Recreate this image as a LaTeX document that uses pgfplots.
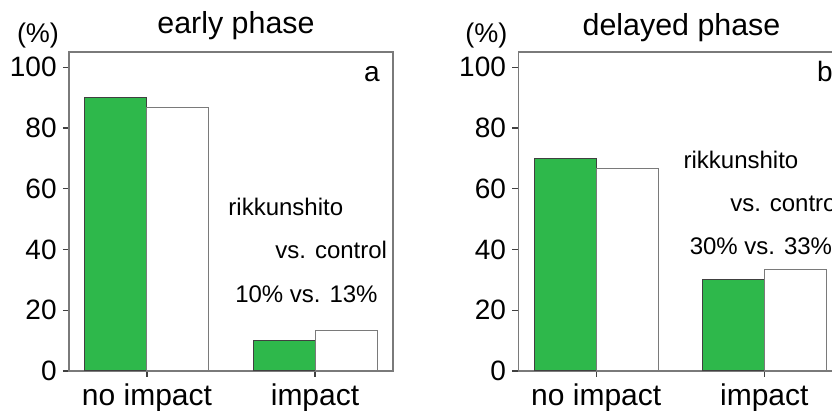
\documentclass[border=0pt]{standalone}
\usepackage{fontspec}
\setmainfont{Liberation Sans}
\usepackage{pgfplots}
\pgfplotsset{compat=1.18}
\definecolor{bargreen}{HTML}{2EB84B}
\definecolor{edgegray}{HTML}{404040}
\definecolor{axgray}{HTML}{7A7A7A}
\newcommand\annfont{\fontsize{12}{14}\selectfont}
\pgfplotsset{
  panel/.style={
    scale only axis, width=162pt, height=159.5pt,
    anchor=south west,
    xmin=-0.464, xmax=1.464, ymin=0, ymax=105,
    ybar=0pt, bar width=31pt,
    xtick={0,1}, xticklabels={no impact, impact},
    ytick={0,20,40,60,80,100},
    xtick pos=lower, ytick pos=left,
    tick align=outside,
    major tick length=3pt,
    axis line style={draw=axgray, line width=0.6pt},
    every tick/.style={draw=edgegray, line width=0.6pt},
    /pgf/number format/assume math mode=true,
    yticklabel style={font=\fontsize{14}{16}\selectfont, inner sep=0pt, xshift=-3pt},
    xticklabel style={font=\fontsize{15}{17}\selectfont, anchor=base, inner sep=0pt, yshift=-14.5pt},
    clip=false,
  }
}
\begin{document}
\begin{tikzpicture}
\path[use as bounding box] (0pt,0pt) rectangle (416pt,205.5pt);
\clip (0pt,0pt) rectangle (416pt,205.5pt);
\begin{axis}[panel, at={(34.5pt,20pt)}]
\addplot[fill=bargreen, draw=edgegray, line width=0.5pt] coordinates {(0,90) (1,10)};
\addplot[fill=white, draw=axgray, line width=0.5pt] coordinates {(0,86.7) (1,13.3)};
\node[anchor=base west, font=\annfont, inner sep=0pt] at (rel axis cs:0.491,0.489) {rikkunshito};
\node[anchor=base west, font=\annfont, inner sep=0pt] at (rel axis cs:0.636,0.354) {vs. control};
\node[anchor=base west, font=\annfont, inner sep=0pt] at (rel axis cs:0.512,0.216) {10\% vs. 13\%};
\node[anchor=base east, font=\fontsize{14}{16}\selectfont, inner sep=0pt] at (rel axis cs:0.96,0.906) {a};
\end{axis}
\begin{axis}[panel, at={(259.15pt,20pt)}]
\addplot[fill=bargreen, draw=edgegray, line width=0.5pt] coordinates {(0,70) (1,30)};
\addplot[fill=white, draw=axgray, line width=0.5pt] coordinates {(0,66.7) (1,33.3)};
\node[anchor=base west, font=\annfont, inner sep=0pt] at (rel axis cs:0.509,0.635) {rikkunshito};
\node[anchor=base west, font=\annfont, inner sep=0pt] at (rel axis cs:0.653,0.499) {vs. control};
\node[anchor=base west, font=\annfont, inner sep=0pt] at (rel axis cs:0.528,0.364) {30\% vs. 33\%};
\node[anchor=base west, font=\fontsize{14}{16}\selectfont, inner sep=0pt] at (rel axis cs:0.921,0.906) {b};
\end{axis}
\node[anchor=base, font=\fontsize{15.2}{17}\selectfont, inner sep=0pt] at (118pt,188.5pt) {early phase};
\node[anchor=base, font=\fontsize{15.2}{17}\selectfont, inner sep=0pt] at (340.75pt,187.5pt) {delayed phase};
\node[anchor=base, font=\fontsize{13.5}{16}\selectfont, inner sep=0pt] at (19pt,184pt) {(\%)};
\node[anchor=base, font=\fontsize{13.5}{16}\selectfont, inner sep=0pt] at (243.15pt,184pt) {(\%)};
\end{tikzpicture}
\end{document}
